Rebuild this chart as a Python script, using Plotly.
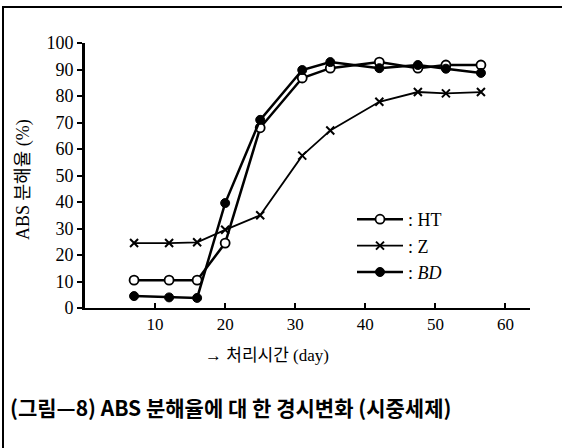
import plotly.graph_objects as go

days = [7, 12, 16, 20, 25, 31, 35, 42, 47.5, 51.5, 56.5]
ht = [10.5, 10.5, 10.5, 24.5, 68, 86.8, 90.5, 92.8, 90.5, 91.7, 91.7]
z = [24.5, 24.5, 24.8, 29.5, 35, 57.5, 67, 77.8, 81.5, 81, 81.5]
bd = [4.5, 4, 3.8, 39.6, 71, 89.8, 92.8, 90.5, 91.7, 90.3, 88.7]

x_ticks = [10, 20, 30, 40, 50, 60]
y_ticks = [0, 10, 20, 30, 40, 50, 60, 70, 80, 90, 100]

L, R, T, B = 85, 32, 43, 140
W, H = 562, 448
pw, ph = W - L - R, H - T - B

def px(x):
    return (x - L) / pw

def py(y):
    return (H - B - y) / ph

serif = "Liberation Serif, Noto Sans CJK KR"

fig = go.Figure()
fig.add_trace(go.Scatter(
    x=days, y=ht, mode="lines+markers", name=": HT",
    line=dict(color="black", width=2.5),
    marker=dict(symbol="circle", size=9, color="white",
                line=dict(color="black", width=1.8))))
fig.add_trace(go.Scatter(
    x=days, y=z, mode="lines+markers", name=": Z",
    line=dict(color="black", width=1.8),
    marker=dict(symbol="x-thin", size=8, color="black",
                line=dict(color="black", width=2))))
fig.add_trace(go.Scatter(
    x=days, y=bd, mode="lines+markers", name=": <i>BD</i>",
    line=dict(color="black", width=2.5),
    marker=dict(symbol="circle", size=9, color="black",
                line=dict(color="black", width=1))))

fig.update_layout(
    width=W, height=H,
    margin=dict(l=L, r=R, t=T, b=B, pad=0),
    paper_bgcolor="white", plot_bgcolor="white",
    font=dict(family=serif, color="black", size=17),
    showlegend=True,
    legend=dict(x=px(352), y=py(201), xanchor="left", yanchor="top",
                bgcolor="rgba(0,0,0,0)", itemwidth=46, tracegroupgap=0,
                font=dict(family=serif, size=18, color="black")),
    xaxis=dict(range=[0, 63.5], tickvals=x_ticks, ticks="inside", ticklen=5,
               tickwidth=1.5, tickcolor="black", showline=True, linecolor="black",
               linewidth=2, showgrid=False, zeroline=False,
               tickfont=dict(family=serif, size=17)),
    yaxis=dict(range=[0, 100], tickvals=y_ticks, ticks="outside", ticklen=5,
               tickwidth=1.5, tickcolor="black", showline=True, linecolor="black",
               linewidth=3, showgrid=False, zeroline=False,
               tickfont=dict(family=serif, size=18)),
    annotations=[
        dict(text="ABS 분해율 (%)", xref="paper", yref="paper",
             x=px(23), y=py(180), xanchor="center", yanchor="middle",
             textangle=-90, showarrow=False,
             font=dict(family=serif, size=18)),
        dict(text="→ 처리시간 (day)", xref="paper", yref="paper",
             x=px(267), y=py(355), xanchor="center", yanchor="middle",
             showarrow=False, font=dict(family=serif, size=17)),
        dict(text="<b>(그림—8) ABS 분해율에 대 한 경시변화 (시중세제)</b>",
             xref="paper", yref="paper", x=px(8), y=py(407),
             xanchor="left", yanchor="middle", showarrow=False,
             font=dict(family="Noto Sans CJK KR", size=21)),
    ],
    shapes=[
        dict(type="line", xref="paper", yref="paper", x0=px(2), x1=px(562),
             y0=py(7), y1=py(7), layer="above", line=dict(color="black", width=2)),
        dict(type="line", xref="paper", yref="paper", x0=px(3), x1=px(3),
             y0=py(7), y1=py(448), layer="above", line=dict(color="black", width=2)),
    ],
)

fig.write_html("out.html",
               config={"displayModeBar": False},
               post_script="document.body.style.margin='0';document.body.style.overflow='hidden';")
